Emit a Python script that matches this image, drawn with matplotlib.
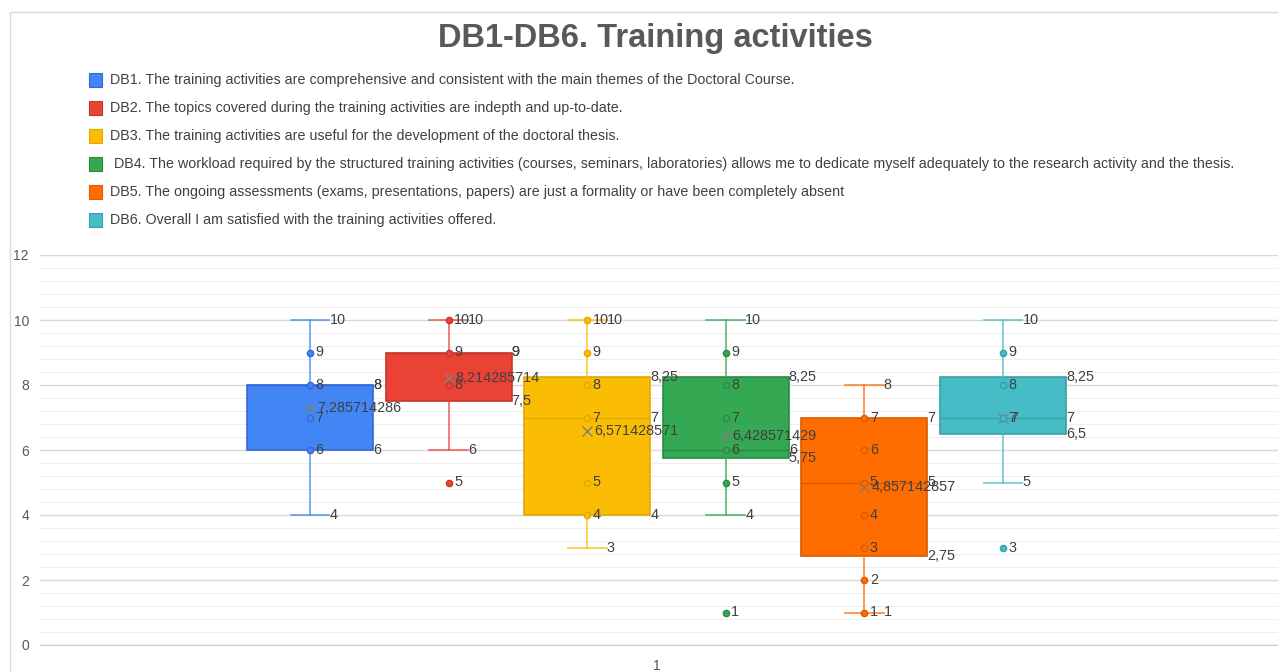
import matplotlib
matplotlib.use("Agg")
import matplotlib.pyplot as plt
from matplotlib.patches import Rectangle

plt.rcParams['font.family'] = ['Liberation Sans', 'DejaVu Sans']

# data
series_names = [
    "DB1. The training activities are comprehensive and consistent with the main themes of the Doctoral Course.",
    "DB2. The topics covered during the training activities are indepth and up-to-date.",
    "DB3. The training activities are useful for the development of the doctoral thesis.",
    " DB4. The workload required by the structured training activities (courses, seminars, laboratories) allows me to dedicate myself adequately to the research activity and the thesis.",
    "DB5. The ongoing assessments (exams, presentations, papers) are just a formality or have been completely absent",
    "DB6. Overall I am satisfied with the training activities offered.",
]
colors = ['#4285F4', '#EA4335', '#FBBC04', '#34A853', '#FF6D01', '#46BDC6']
edge_colors = ['#3367D6', '#C5372C', '#E0A800', '#2A8A44', '#D95C00', '#3A9EA6']
whis_lo = [4, 6, 3, 4, 1, 5]
q1 = [6, 7.5, 4, 5.75, 2.75, 6.5]
medians = [8, 9, 7, 6, 5, 7]
q3 = [8, 9, 8.25, 8.25, 7, 8.25]
whis_hi = [10, 10, 10, 10, 8, 10]
means = [7.285714286, 8.214285714, 6.571428571, 6.428571429, 4.857142857, 7.0]
points = [
    [9, 8, 7, 6],
    [10, 9, 8, 5],
    [10, 9, 8, 7, 5, 4],
    [9, 8, 7, 6, 5, 1],
    [7, 6, 5, 4, 3, 2, 1],
    [9, 8, 7, 3],
]


def fmt(v):
    return f"{v:.10g}".replace('.', ',')


fig = plt.figure(figsize=(12.78, 6.72), dpi=100)
ax = fig.add_axes([40 / 1278, 27 / 672, 1238 / 1278, 390 / 672])

positions = list(range(1, 7))
width = 0.91
capw = 0.28
txt_col = '#404040'
lbl_size = 10.4

for i in range(6):
    stats = [{'med': medians[i], 'q1': q1[i], 'q3': q3[i], 'whislo': whis_lo[i],
              'whishi': whis_hi[i], 'mean': means[i], 'fliers': []}]
    ax.bxp(stats, positions=[positions[i]], widths=width, capwidths=capw,
           patch_artist=True, showmeans=True, showfliers=False,
           boxprops=dict(facecolor=colors[i], edgecolor=edge_colors[i], linewidth=1.2),
           medianprops=dict(color=edge_colors[i], linewidth=1),
           whiskerprops=dict(color=colors[i], linewidth=1.2, alpha=0.8),
           capprops=dict(color=colors[i], linewidth=1.2, alpha=0.8),
           meanprops=dict(marker='x', markeredgecolor='#808080', markersize=7, markeredgewidth=1))
    x = positions[i]
    # individual points
    ax.plot([x] * len(points[i]), points[i], 'o', color=colors[i],
            markeredgecolor=edge_colors[i], markersize=4.5, zorder=4)
    for p in points[i]:
        ax.text(x + 0.04, p, fmt(p), va='center', ha='left', fontsize=lbl_size, color=txt_col, zorder=5)
    # whisker end labels
    ax.text(x + capw / 2, whis_hi[i], fmt(whis_hi[i]), va='center', ha='left', fontsize=lbl_size, color=txt_col)
    ax.text(x + capw / 2, whis_lo[i], fmt(whis_lo[i]), va='center', ha='left', fontsize=lbl_size, color=txt_col)
    # quartile / median labels
    for v in (q1[i], medians[i], q3[i]):
        ax.text(x + width / 2, v, fmt(v), va='center', ha='left', fontsize=lbl_size, color=txt_col)
    # mean label
    ax.text(x + 0.05, means[i], fmt(means[i]), va='center', ha='left', fontsize=lbl_size, color=txt_col, zorder=5)

ax.set_xlim(1 - 270 / 138.6, 6 + 275 / 138.6)
ax.set_ylim(0, 12)
ax.set_yticks(range(0, 13, 2))
ax.set_yticks([v * 0.4 for v in range(31)], minor=True)
ax.grid(True, which='major', axis='y', color='#d9d9d9', linewidth=1)
ax.grid(True, which='minor', axis='y', color='#eeeeee', linewidth=0.8)
ax.set_axisbelow(True)
ax.set_xticks([3.5])
ax.set_xticklabels(['1'])
ax.tick_params(axis='both', which='both', length=0, labelsize=10, colors='#595959')
ax.tick_params(axis='y', pad=8)
ax.tick_params(axis='x', pad=10)
for s in ax.spines.values():
    s.set_visible(False)
ax.spines['bottom'].set_visible(True)
ax.spines['bottom'].set_color('#cccccc')

# title
fig.text(655 / 1278, 1 - 38 / 672, "DB1-DB6. Training activities", ha='center', va='center',
         fontsize=23.5, fontweight='bold', color='#595959')

# legend
for i in range(6):
    yc = 80 + 28 * i
    fig.patches.append(Rectangle((89 / 1278, 1 - (yc + 6.5) / 672), 13 / 1278, 13 / 672,
                                 transform=fig.transFigure, facecolor=colors[i],
                                 edgecolor=edge_colors[i], linewidth=0.8))
    fig.text(110 / 1278, 1 - yc / 672, series_names[i], ha='left', va='center',
             fontsize=10.3, color=txt_col)

# chart border
fig.patches.append(Rectangle((10 / 1278, -0.01), 1.2, 1 - 12 / 672 + 0.01,
                             transform=fig.transFigure, fill=False, edgecolor='#d9d9d9', linewidth=1))

fig.savefig("out.png", dpi=100)
